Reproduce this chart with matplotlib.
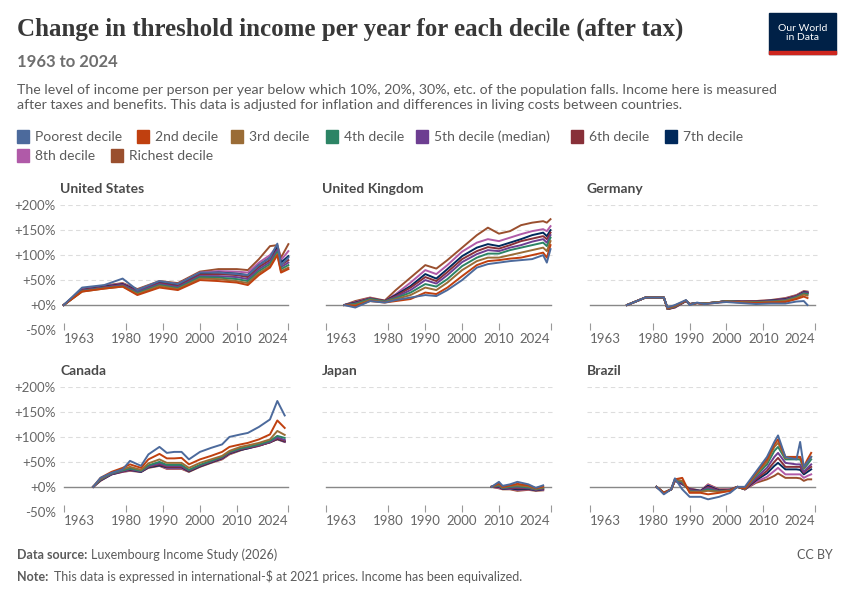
import matplotlib
matplotlib.use("Agg")
import matplotlib.pyplot as plt
from matplotlib.patches import Rectangle

plt.rcParams['font.family'] = ['Lato', 'DejaVu Sans']

deciles = ["Poorest decile", "2nd decile", "3rd decile", "4th decile", "5th decile (median)",
           "6th decile", "7th decile", "8th decile", "Richest decile"]
colors = ['#4c6a9c', '#c0400f', '#9a6c36', '#2c8465', '#6d3e91', '#883039', '#00295b', '#b05aa8', '#9a4f2e']

us_years = [1963, 1968, 1974, 1979, 1983, 1989, 1994, 2000, 2005, 2010, 2013, 2016, 2019, 2021, 2022, 2024]
us_vals = [
    [0, 35, 40, 53, 30, 48, 42, 65, 65, 62, 60, 80, 95, 123, 80, 95],
    [0, 27, 33, 37, 20, 35, 30, 50, 48, 45, 40, 60, 75, 100, 65, 72],
    [0, 27, 33, 37, 22, 38, 32, 53, 52, 48, 44, 64, 78, 102, 68, 75],
    [0, 28, 34, 38, 24, 40, 34, 56, 55, 52, 48, 68, 82, 106, 72, 80],
    [0, 29, 35, 40, 26, 42, 36, 58, 58, 56, 52, 72, 86, 110, 76, 85],
    [0, 30, 36, 41, 28, 44, 38, 61, 62, 60, 56, 76, 90, 112, 80, 90],
    [0, 30, 37, 42, 29, 46, 40, 63, 65, 63, 60, 80, 95, 115, 85, 98],
    [0, 31, 38, 43, 30, 47, 42, 65, 68, 67, 65, 85, 100, 118, 90, 108],
    [0, 32, 39, 44, 32, 48, 44, 67, 72, 72, 70, 92, 118, 120, 95, 122],
]

uk_years = [1968, 1971, 1975, 1979, 1982, 1986, 1990, 1993, 1996, 2000, 2004, 2007, 2010, 2013, 2016, 2019, 2022, 2023, 2024]
uk_vals = [
    [0, -5, 8, 5, 10, 15, 20, 18, 30, 50, 75, 82, 85, 88, 90, 92, 100, 85, 112],
    [0, -2, 8, 5, 8, 12, 25, 22, 35, 58, 80, 88, 90, 93, 95, 100, 105, 95, 120],
    [0, 0, 10, 6, 12, 20, 35, 30, 45, 70, 88, 95, 95, 100, 105, 110, 115, 108, 128],
    [0, 2, 12, 7, 14, 25, 42, 37, 52, 78, 95, 103, 103, 110, 115, 120, 125, 118, 135],
    [0, 3, 12, 7, 16, 30, 50, 43, 60, 86, 102, 110, 108, 115, 120, 127, 132, 125, 140],
    [0, 4, 13, 8, 18, 35, 56, 48, 66, 92, 108, 116, 113, 120, 128, 133, 138, 132, 145],
    [0, 5, 13, 8, 20, 38, 62, 53, 72, 98, 115, 122, 118, 125, 132, 140, 145, 138, 150],
    [0, 6, 14, 8, 22, 45, 70, 62, 80, 107, 125, 132, 128, 135, 142, 148, 152, 148, 158],
    [0, 8, 15, 9, 30, 55, 80, 73, 90, 115, 140, 155, 143, 148, 160, 165, 168, 165, 172],
]

de_years = [1973, 1978, 1983, 1984, 1986, 1989, 1990, 1992, 1994, 1998, 2000, 2004, 2008, 2012, 2016, 2019, 2021, 2022]
de_vals = [
    [0, 15, 15, -5, 0, 10, 0, 5, 2, 5, 6, 4, 2, 3, 3, 7, 8, 0],
    [0, 15, 15, -6, -1, 9, 1, 4, 2, 5, 7, 5, 4, 5, 6, 12, 17, 14],
    [0, 15, 15, -7, -2, 9, 1, 4, 3, 6, 7, 6, 5, 6, 8, 14, 21, 19],
    [0, 15, 15, -7, -3, 9, 2, 4, 3, 6, 8, 6, 6, 7, 9, 16, 23, 22],
    [0, 15, 15, -7, -3, 9, 2, 4, 3, 6, 8, 6, 6, 8, 10, 17, 24, 23],
    [0, 15, 15, -8, -4, 8, 2, 4, 3, 6, 8, 7, 7, 8, 11, 18, 25, 24],
    [0, 15, 15, -8, -4, 8, 2, 4, 3, 6, 8, 7, 7, 9, 12, 18, 26, 25],
    [0, 15, 15, -8, -5, 8, 2, 4, 3, 6, 8, 7, 8, 9, 13, 19, 27, 26],
    [0, 15, 15, -8, -5, 8, 2, 4, 3, 6, 8, 7, 8, 10, 14, 20, 28, 27],
]

ca_years = [1971, 1973, 1976, 1979, 1981, 1984, 1986, 1989, 1991, 1993, 1995, 1997, 2000, 2003, 2006, 2008, 2011, 2013, 2016, 2019, 2021, 2023]
ca_vals = [
    [0, 18, 28, 35, 52, 42, 65, 80, 68, 70, 70, 55, 70, 78, 85, 100, 105, 108, 120, 135, 172, 143],
    [0, 18, 30, 38, 45, 38, 55, 66, 57, 57, 58, 45, 55, 62, 70, 80, 85, 88, 95, 105, 133, 118],
    [0, 16, 28, 35, 40, 34, 47, 55, 48, 48, 48, 38, 48, 55, 62, 72, 80, 83, 88, 95, 112, 104],
    [0, 15, 27, 33, 37, 32, 43, 50, 44, 44, 44, 34, 44, 52, 60, 70, 77, 80, 85, 92, 102, 98],
    [0, 14, 26, 32, 36, 31, 41, 47, 42, 42, 42, 33, 43, 51, 59, 69, 76, 79, 84, 90, 99, 94],
    [0, 14, 26, 31, 35, 31, 40, 45, 40, 40, 40, 32, 42, 50, 58, 68, 75, 78, 83, 89, 97, 92],
    [0, 13, 25, 31, 34, 30, 39, 43, 39, 39, 39, 31, 41, 49, 57, 67, 74, 77, 83, 89, 96, 91],
    [0, 13, 25, 30, 33, 30, 39, 43, 37, 37, 37, 31, 41, 49, 56, 66, 74, 77, 82, 90, 96, 90],
    [0, 12, 25, 30, 32, 30, 38, 42, 36, 36, 36, 30, 40, 48, 55, 65, 73, 78, 82, 90, 95, 90],
]

jp_years = [2008, 2010, 2011, 2013, 2015, 2018, 2020, 2022]
jp_vals = [
    [0, 10, 2, 5, 10, 5, -2, 3],
    [0, 7, 0, 3, 6, 3, -3, 1],
    [0, 5, -1, 2, 3, 1, -4, -1],
    [0, 3, -2, 0, 1, -1, -5, -2],
    [0, 2, -3, -1, -1, -2, -6, -3],
    [0, 1, -3, -2, -3, -3, -6, -4],
    [0, 0, -4, -3, -5, -4, -7, -5],
    [0, -2, -4, -4, -6, -5, -7, -6],
    [0, -3, -5, -5, -8, -6, -8, -7],
]

br_years = [1981, 1983, 1985, 1986, 1988, 1990, 1993, 1995, 1998, 2001, 2003, 2005, 2008, 2011, 2013, 2014, 2016, 2019, 2020, 2021, 2022, 2023]
br_vals = [
    [0, -15, -5, 17, -5, -20, -20, -25, -20, -12, 0, 0, 30, 60, 90, 103, 60, 55, 90, 40, 50, 60],
    [0, -12, -5, 15, 18, -12, -12, -15, -12, -8, 0, -3, 28, 55, 85, 95, 60, 60, 60, 40, 55, 68],
    [0, -12, -5, 15, 12, -10, -10, -8, -10, -8, 0, -4, 25, 50, 80, 88, 58, 58, 58, 38, 50, 60],
    [0, -12, -5, 14, 10, -9, -10, -5, -10, -7, 0, -4, 22, 45, 72, 80, 55, 55, 55, 36, 45, 55],
    [0, -12, -5, 14, 8, -7, -9, -2, -9, -7, 0, -4, 18, 38, 60, 68, 48, 45, 45, 30, 38, 45],
    [0, -12, -5, 13, 7, -6, -9, 0, -8, -6, 0, -5, 15, 32, 50, 58, 40, 40, 40, 28, 35, 40],
    [0, -12, -5, 13, 6, -5, -8, 2, -7, -6, 0, -5, 13, 27, 42, 48, 35, 35, 34, 25, 30, 35],
    [0, -12, -5, 12, 5, -4, -8, 4, -6, -5, 0, -5, 10, 20, 32, 38, 25, 25, 25, 18, 22, 25],
    [0, -12, -5, 12, 5, -3, -8, 5, -5, -5, 0, -5, 8, 15, 22, 27, 18, 18, 17, 12, 15, 15],
]

countries = ["United States", "United Kingdom", "Germany", "Canada", "Japan", "Brazil"]
data = [(us_years, us_vals), (uk_years, uk_vals), (de_years, de_vals),
        (ca_years, ca_vals), (jp_years, jp_vals), (br_years, br_vals)]
xticks = [1963, 1980, 1990, 2000, 2010, 2024]
yticks = [-50, 0, 50, 100, 150, 200]
ylabels = ['-50%', '+0%', '+50%', '+100%', '+150%', '+200%']

fig = plt.figure(figsize=(8.5, 6), dpi=100)
fig.patch.set_facecolor('white')

fig.text(0.02, 0.94, "Change in threshold income per year for each decile (after tax)",
         fontsize=18, family=['Liberation Serif'], color='#383838', fontweight='bold')
fig.text(0.02, 0.888, "1963 to 2024", fontsize=12, color='#6e6e6e', fontweight='bold')
fig.text(0.02, 0.818, "The level of income per person per year below which 10%, 20%, 30%, etc. of the population falls. Income here is measured\n"
         "after taxes and benefits. This data is adjusted for inflation and differences in living costs between countries.",
         fontsize=10.2, color='#5b5b5b', linespacing=1.35)
# logo
fig.patches.append(Rectangle((0.905, 0.91), 0.078, 0.068, transform=fig.transFigure, color='#002147'))
fig.patches.append(Rectangle((0.905, 0.91), 0.078, 0.005, transform=fig.transFigure, color='#ce261e'))
fig.text(0.944, 0.945, "Our World\nin Data", color='white', fontsize=7.5, ha='center', va='center', linespacing=1.1)

# legend
leg_rows = [[0, 1, 2, 3, 4, 5, 6], [7, 8]]
leg_px = [[17, 137, 231, 326, 416, 571, 665], [17, 111]]
for r, row in enumerate(leg_rows):
    y = 1 - (137 + r * 19) / 600
    for k, i in enumerate(row):
        x = leg_px[r][k] / 850
        fig.patches.append(Rectangle((x, y - 0.01), 0.0145, 0.021, transform=fig.transFigure, color=colors[i]))
        fig.text(x + 0.021, y, deciles[i], fontsize=10, color='#5b5b5b', va='center')

lefts = [0.0706, 0.379, 0.69]
bottoms = [0.45, 0.147]
w, h = 0.273, 0.208
for idx, (name, (yrs, vals)) in enumerate(zip(countries, data)):
    r, c = divmod(idx, 3)
    ax = fig.add_axes([lefts[c], bottoms[r], w, h])
    ax.set_xlim(1962, 2025)
    ax.set_ylim(-50, 200)
    for y in [50, 100, 150, 200]:
        ax.axhline(y, color='#dddddd', lw=0.8, ls=(0, (4, 3)), zorder=0)
    ax.plot([1963, 2024], [0, 0], color='#888888', lw=1, zorder=1)
    for i in range(8, -1, -1):
        ax.plot(yrs, vals[i], color=colors[i], lw=1.4, zorder=2 + (9 - i))
    ax.set_xticks(xticks)
    labs = ax.set_xticklabels([str(t) for t in xticks], fontsize=9.5, color='#666666')
    labs[0].set_ha('left')
    labs[-1].set_ha('right')
    ax.set_yticks(yticks)
    if c == 0:
        ax.set_yticklabels(ylabels, fontsize=9.5, color='#666666')
    else:
        ax.set_yticklabels([])
    ax.tick_params(axis='y', length=0, pad=3)
    ax.tick_params(axis='x', length=5, color='#999999', pad=2, direction='in')
    for s in ['top', 'right', 'left', 'bottom']:
        ax.spines[s].set_visible(False)
    ax.text(0.0, 1.08, name, transform=ax.transAxes, fontsize=10,
            fontweight='bold', color='#4a4a4a', va='bottom')

fig.text(0.02, 0.068, "Data source: ", fontsize=9, color='#5b5b5b', fontweight='bold')
fig.text(0.107, 0.068, "Luxembourg Income Study (2026)", fontsize=9, color='#5b5b5b')
fig.text(0.98, 0.068, "CC BY", fontsize=9, color='#5b5b5b', ha='right')
fig.text(0.02, 0.032, "Note: ", fontsize=9, color='#5b5b5b', fontweight='bold')
fig.text(0.063, 0.032, "This data is expressed in international-$ at 2021 prices. Income has been equivalized.",
         fontsize=9, color='#5b5b5b')

fig.savefig("out.png", dpi=100)
